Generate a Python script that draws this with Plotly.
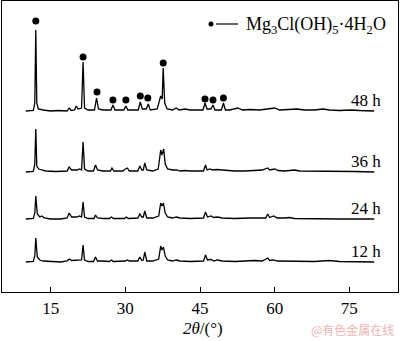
import plotly.graph_objects as go

# ---- data (2θ in degrees, intensity above each pattern's baseline, a.u.) ----
x_48 = [10.0, 11.5, 11.8, 12.0, 12.2, 12.5, 13.5, 15, 16.5, 18.3, 18.7, 19.1, 19.8, 20.1, 20.5, 21.2, 21.5, 21.8, 22.5,
        23.8, 24.2, 24.6, 25.5, 27.1, 27.5, 27.9, 29.7, 30.1, 30.5, 32.6, 33.0, 33.4, 34.2, 34.6, 35.0, 36.4, 37.1, 37.4,
        37.6, 37.9, 38.4, 39.5, 40.2, 40.8, 42, 43, 45.6, 46.0, 46.4, 47.2, 47.6, 48.0, 49.3, 49.7, 50.1, 51, 52.6, 53.5,
        55, 57, 58.5, 60, 61, 62.5, 64.5, 66, 68, 69.7, 71, 73, 75.5, 77, 80]
y_48 = [0, 0.5, 8, 81, 8, 2, 1, 0, 0.5, 0, 3, 0.5, 1, 5, 2, 3, 49, 3, 1,
        1, 13, 2, 1, 1, 6, 1, 1, 5, 1, 1, 9, 2, 2, 7, 1, 2, 15, 12,
        43, 8, 2, 1, 3, 1, 2, 1, 1, 8, 2, 2, 6, 1, 1, 8, 1, 1, 3, 1,
        1.5, 1, 2, 3, 1, 1.5, 2, 1, 1, 2, 1, 0.5, 1, 0.5, 0]

x_36 = [10, 11.5, 11.8, 12.0, 12.2, 12.6, 13.2, 14, 16, 18.3, 18.7, 19.2, 20.3, 20.8, 21.2, 21.5, 21.8, 22.5, 23.6, 24.0,
        24.4, 25.5, 27.0, 27.3, 27.7, 29.5, 30.0, 30.4, 30.8, 32.5, 32.9, 33.3, 33.6, 33.9, 34.3, 35.5, 36.6, 37.1, 37.35,
        37.7, 38.0, 38.5, 39.5, 40.3, 41, 42, 43, 45.7, 46.1, 46.4, 47, 47.5, 48.3, 49.6, 50.5, 52, 54, 56, 57.5, 58.6, 59,
        60, 60.7, 62, 64, 65, 67, 70, 73, 76, 80]
y_36 = [0, 0.5, 8, 43, 6, 3, 2, 1, 0.5, 1, 5, 2, 2, 3, 2, 30, 3, 1, 1, 7,
        2, 1, 1, 4, 1, 1, 3, 4, 1, 1, 6, 2, 2, 9, 2, 1, 3, 22, 17,
        23, 8, 3, 2, 2, 1, 1.5, 1, 1, 7, 2, 3, 2, 2.5, 2, 1, 1, 1, 1.5, 2, 4, 2,
        3, 1.5, 1, 2, 1, 1, 0.5, 1, 0.5, 0]

x_24 = [10, 11.5, 11.8, 12.0, 12.3, 12.8, 13.2, 13.7, 15, 17, 18.3, 18.7, 19.2, 20.2, 20.8, 21.2, 21.5, 21.8, 22.5, 23.7,
        24.0, 24.4, 25.5, 26.8, 27.2, 27.6, 29.8, 30.2, 30.6, 32.5, 32.9, 33.3, 33.6, 33.9, 34.3, 35.5, 36.7, 37.1, 37.35,
        37.65, 38.0, 38.5, 39.5, 40.2, 41, 43, 45.7, 46.1, 46.5, 47.2, 47.8, 48.5, 49.5, 52, 55, 57, 58.2, 58.6, 59, 59.8,
        60.5, 62, 63, 64, 68, 73, 80]
y_24 = [0, 0.5, 6, 23, 5, 2, 3, 1, 0, 0, 1, 6, 2, 2, 3, 2, 17, 2, 0.5, 0.5,
        4, 1, 0.5, 0.5, 2, 0.5, 0.5, 2, 0.5, 1, 5, 2, 2, 8, 1, 1, 3, 16, 13,
        16, 6, 2, 1, 2, 1, 0.5, 1, 7, 2, 3, 1.5, 2, 1, 0.5, 1, 1, 1, 5, 1.5, 3,
        1, 1, 1.5, 0.5, 0, 0, 0]

x_12 = [10, 11.5, 11.8, 12.0, 12.3, 12.8, 13.5, 15, 17, 18.3, 18.7, 19.2, 20.5, 21.2, 21.5, 21.8, 22.5, 23.6, 24.0, 24.4,
        25.5, 26.8, 27.2, 27.6, 30.0, 30.4, 30.8, 32.5, 32.9, 33.3, 33.6, 33.9, 34.3, 35.5, 36.7, 37.1, 37.35, 37.65, 38.0,
        38.5, 39.5, 40.2, 41, 43, 45.7, 46.1, 46.5, 47.2, 47.8, 48.5, 49.5, 52, 54, 56, 57.5, 58.6, 59, 59.8, 60.5, 62, 64,
        68, 71, 73, 80]
y_12 = [0, 0.5, 6, 24, 5, 2, 1, 0.5, 0, 1, 3, 1.5, 2, 2, 17, 2, 0.5, 0.5, 5, 1,
        1, 0.5, 2, 0.5, 1, 2, 1, 1, 5, 1.5, 2, 10, 1, 1, 3, 16, 12, 15, 6,
        2, 1, 2, 1, 0.5, 1, 7, 2, 2.5, 1, 2, 1, 0.5, 1, 1.5, 1, 4, 1.5, 2, 1, 1, 1,
        0.5, 1.5, 0.5, 0]

# Mg3Cl(OH)5·4H2O reflections marked on the 48 h pattern (2θ, marker height above baseline)
dot_x = [12.0, 21.5, 24.3, 27.5, 30.1, 33.0, 34.5, 37.6, 46.0, 47.6, 49.7]
dot_y = [90, 54, 19, 11, 11, 15, 13, 48, 12, 11, 13]

labels = ["12 h", "24 h", "36 h", "48 h"]
series = [(x_12, y_12), (x_24, y_24), (x_36, y_36), (x_48, y_48)]
x_ticks = [15, 30, 45, 60, 75]

# ---- layout constants ----
offsets = [30, 73, 120, 181]
FONT = "Liberation Serif"
W_PLOT, H_PLOT = 396, 291


def px(xp):
    return (xp - 2) / W_PLOT


def py(yp):
    return (292 - yp) / H_PLOT


fig = go.Figure()
for (xs, ys), off in zip(series, offsets):
    fig.add_trace(go.Scatter(x=xs, y=[v + off for v in ys], mode="lines",
                             line=dict(color="black", width=1.3), showlegend=False,
                             hoverinfo="skip"))

fig.add_trace(go.Scatter(x=dot_x, y=[v + offsets[3] for v in dot_y], mode="markers",
                         marker=dict(color="black", size=7), showlegend=False))

for lab, off in zip(labels, offsets):
    fig.add_annotation(x=81.8, y=off + 11, xref="x", yref="y", text=lab, showarrow=False,
                       xanchor="right", yanchor="middle", font=dict(family=FONT, size=17, color="black"))

# legend: dot, dash, formula
fig.add_shape(type="circle", xref="paper", yref="paper",
              x0=px(208.5), x1=px(213.5), y0=py(21.5), y1=py(26.5),
              fillcolor="black", line=dict(color="black", width=0))
fig.add_shape(type="line", xref="paper", yref="paper",
              x0=px(216), x1=px(238), y0=py(24), y1=py(24), line=dict(color="black", width=1.2))
fig.add_annotation(x=px(244), y=py(25), xref="paper", yref="paper",
                   text="Mg<sub>3</sub>Cl(OH)<sub>5</sub>·4H<sub>2</sub>O", showarrow=False,
                   xanchor="left", yanchor="middle", font=dict(family=FONT, size=18, color="black"))

fig.add_annotation(x=45.6, y=py(328), xref="x", yref="paper",
                   text="<i>2θ</i>/(°)", showarrow=False, xanchor="center", yanchor="middle",
                   font=dict(family=FONT, size=17, color="black"))

fig.add_annotation(x=px(396), y=py(329), xref="paper", yref="paper",
                   text="@有色金属在线", showarrow=False, xanchor="right", yanchor="middle",
                   font=dict(family="Noto Sans CJK SC", size=12, color="#f0b4b4"))

fig.update_xaxes(range=[5.21, 84.78], tickvals=x_ticks, ticks="inside", ticklen=5,
                 tickwidth=1, tickcolor="black", showline=True, linecolor="black", linewidth=1.2,
                 mirror=True, showgrid=False, zeroline=False,
                 tickfont=dict(family=FONT, size=17, color="black"))
fig.update_yaxes(range=[0, 291], showticklabels=False, ticks="", showline=True, linecolor="black",
                 linewidth=1.2, mirror=True, showgrid=False, zeroline=False)

fig.update_layout(width=400, height=341, margin=dict(l=2, r=2, t=1, b=49),
                  plot_bgcolor="white", paper_bgcolor="white", showlegend=False)

fig.write_html("out.html")
